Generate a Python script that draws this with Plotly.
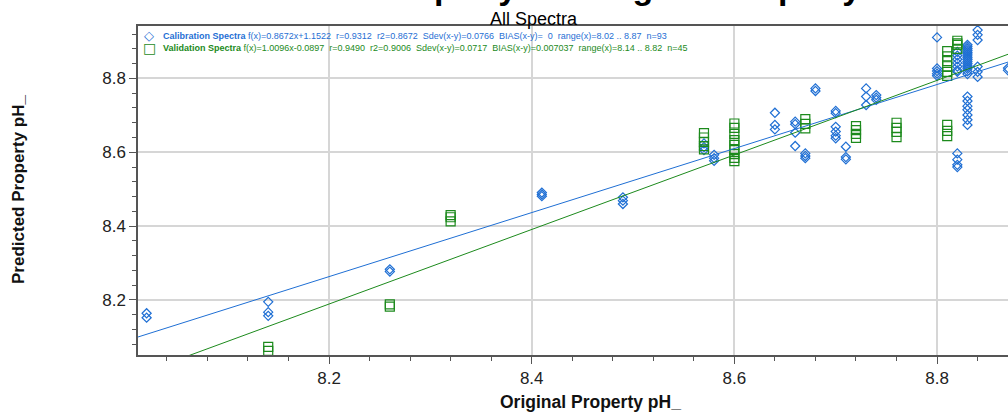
import plotly.graph_objects as go

# ---------------- data ----------------
cal_x = [8.02, 8.02,
         8.14, 8.14, 8.14,
         8.26, 8.26,
         8.41, 8.41, 8.41,
         8.49, 8.49, 8.49,
         8.57, 8.57, 8.57,
         8.58, 8.58, 8.58,
         8.64, 8.64, 8.64,
         8.66, 8.66, 8.66, 8.66,
         8.67, 8.67, 8.67,
         8.68, 8.68,
         8.70, 8.70, 8.70, 8.70, 8.70, 8.70,
         8.71, 8.71, 8.71,
         8.73, 8.73, 8.73,
         8.74, 8.74, 8.74,
         8.80, 8.80, 8.80, 8.80, 8.80,
         8.82, 8.82, 8.82, 8.82, 8.82, 8.82, 8.82, 8.82, 8.82, 8.82, 8.82,
         8.83, 8.83, 8.83, 8.83, 8.83, 8.83, 8.83, 8.83, 8.83, 8.83, 8.83, 8.83,
         8.83, 8.83, 8.83, 8.83, 8.83, 8.83, 8.83, 8.83, 8.83, 8.83, 8.83,
         8.84, 8.84, 8.84, 8.84, 8.84, 8.84,
         8.87, 8.87]
cal_y = [8.164, 8.152,
         8.195, 8.167, 8.157,
         8.283, 8.277,
         8.491, 8.486, 8.481,
         8.478, 8.469, 8.460,
         8.624, 8.614, 8.606,
         8.593, 8.584, 8.577,
         8.707, 8.674, 8.662,
         8.683, 8.676, 8.653, 8.617,
         8.597, 8.590, 8.584,
         8.773, 8.766,
         8.712, 8.706, 8.669, 8.656, 8.645, 8.638,
         8.615, 8.587, 8.581,
         8.773, 8.751, 8.728,
         8.755, 8.748, 8.742,
         8.911, 8.827, 8.820, 8.813, 8.807,
         8.872, 8.862, 8.852, 8.842, 8.832, 8.822, 8.818, 8.597, 8.580, 8.566, 8.560,
         8.891, 8.886, 8.881, 8.876, 8.871, 8.866, 8.861, 8.856, 8.851, 8.846, 8.841, 8.836,
         8.831, 8.826, 8.819, 8.812, 8.751, 8.739, 8.725, 8.715, 8.701, 8.688, 8.674,
         8.931, 8.918, 8.904, 8.832, 8.818, 8.804,
         8.828, 8.822]

val_x = [8.14, 8.14,
         8.26, 8.26,
         8.32, 8.32, 8.32,
         8.57, 8.57, 8.57, 8.57, 8.57,
         8.60, 8.60, 8.60, 8.60, 8.60, 8.60, 8.60, 8.60, 8.60,
         8.67, 8.67, 8.67,
         8.72, 8.72, 8.72, 8.72,
         8.76, 8.76, 8.76, 8.76,
         8.81, 8.81, 8.81, 8.81, 8.81, 8.81, 8.81, 8.81, 8.81,
         8.82, 8.82, 8.82, 8.82]
val_y = [8.073, 8.062,
         8.188, 8.182,
         8.430, 8.424, 8.413,
         8.652, 8.640, 8.628, 8.617, 8.608,
         8.678, 8.666, 8.650, 8.633, 8.620, 8.606, 8.595, 8.585, 8.576,
         8.690, 8.677, 8.665,
         8.671, 8.660, 8.650, 8.639,
         8.680, 8.666, 8.655, 8.641,
         8.874, 8.860, 8.847, 8.833, 8.818, 8.807, 8.674, 8.658, 8.644,
         8.902, 8.895, 8.891, 8.880]

cal_slope, cal_intercept = 0.8672, 1.1522
val_slope, val_intercept = 1.0096, -0.0897

x_range = [8.0115, 8.870]
y_range = [8.051, 8.942]

title_text = "Predicted Property vs. Original Property"
subtitle_text = "All Spectra"
x_title = "Original Property pH_"
y_title = "Predicted Property pH_"
SP2 = "\u00a0\u00a0"
cal_fields = ["f(x)=0.8672x+1.1522", "r=0.9312", "r2=0.8672", "Sdev(x-y)=0.0766",
              "BIAS(x-y)=\u00a0\u00a00", "range(x)=8.02 .. 8.87", "n=93"]
val_fields = ["f(x)=1.0096x-0.0897", "r=0.9490", "r2=0.9006", "Sdev(x-y)=0.0717",
              "BIAS(x-y)=0.007037", "range(x)=8.14 .. 8.82", "n=45"]
cal_label = "<b>Calibration Spectra</b> " + SP2.join(cal_fields)
val_label = "<b>Validation Spectra</b> " + SP2.join(val_fields)

BLUE = "#1f6fd4"
GREEN = "#1c8a1c"
FONT = "Liberation Sans, Arial, sans-serif"

# ---------------- figure ----------------
W, H = 1008, 414
ML, MR, MT, MB = 138, 0, 26, 59
PW, PH = W - ML - MR, H - MT - MB


def px(xp):
    return (xp - ML) / PW


def py(yp):
    return (H - MB - yp) / PH


fig = go.Figure()

fig.add_trace(go.Scatter(
    x=cal_x, y=cal_y, mode="markers", name="Calibration Spectra",
    marker=dict(symbol="diamond-open", size=7, color=BLUE, line=dict(width=1.2, color=BLUE)),
))
fig.add_trace(go.Scatter(
    x=val_x, y=val_y, mode="markers", name="Validation Spectra",
    marker=dict(symbol="square-open", size=9, color=GREEN, line=dict(width=1.2, color=GREEN)),
))
fig.add_trace(go.Scatter(
    x=x_range, y=[cal_slope * v + cal_intercept for v in x_range], mode="lines",
    line=dict(color=BLUE, width=1), hoverinfo="skip",
))
fig.add_trace(go.Scatter(
    x=x_range, y=[val_slope * v + val_intercept for v in x_range], mode="lines",
    line=dict(color=GREEN, width=1), hoverinfo="skip",
))

axis_common = dict(
    showgrid=True, gridcolor="#d6d6d6", gridwidth=1.5,
    showline=True, linecolor="#555555", linewidth=1.5,
    ticks="outside", ticklen=7, tickwidth=1, tickcolor="#555555",
    tickfont=dict(family=FONT, size=17, color="#222222"),
    zeroline=False, dtick=0.2, tick0=8.0, tickformat=".1f",
    minor=dict(dtick=0.04, tick0=8.0, ticks="outside", ticklen=4,
               tickcolor="#555555", showgrid=False),
)

fig.update_layout(
    width=W, height=H, autosize=False,
    margin=dict(l=ML, r=MR, t=MT, b=MB, pad=0),
    paper_bgcolor="white", plot_bgcolor="white",
    showlegend=False,
    xaxis=dict(range=x_range, mirror=True, **axis_common),
    yaxis=dict(range=y_range, mirror=False, **axis_common),
    font=dict(family=FONT),
)

ann = [
    dict(text="<b>" + title_text + "</b>", x=px(537), y=py(8.0), yanchor="bottom",
         font=dict(size=34, color="black")),
    dict(text=subtitle_text, x=px(534), y=py(18.5), yanchor="middle",
         font=dict(size=18, color="black")),
    dict(text="\u25c7", x=px(149), y=py(36), yanchor="middle",
         font=dict(size=13, color=BLUE, family="DejaVu Sans")),
    dict(text="\u25a1", x=px(149), y=py(47.5), yanchor="middle",
         font=dict(size=14, color=GREEN, family="DejaVu Sans")),
    dict(text=cal_label, x=px(161), xanchor="left", y=py(36), yanchor="middle",
         font=dict(size=9.0, color=BLUE)),
    dict(text=val_label, x=px(161), xanchor="left", y=py(47.5), yanchor="middle",
         font=dict(size=9.0, color=GREEN)),
    dict(text="<b>" + x_title + "</b>", x=px(590), y=py(402), yanchor="middle",
         font=dict(size=17.5, color="#111111")),
    dict(text="<b>" + y_title + "</b>", x=px(18), y=py(190), yanchor="middle",
         textangle=-90, font=dict(size=17, color="#111111")),
]
for a in ann:
    a.setdefault("xanchor", "center")
    a.update(xref="paper", yref="paper", showarrow=False)
fig.update_layout(annotations=ann)

fig.write_html("out.html")
